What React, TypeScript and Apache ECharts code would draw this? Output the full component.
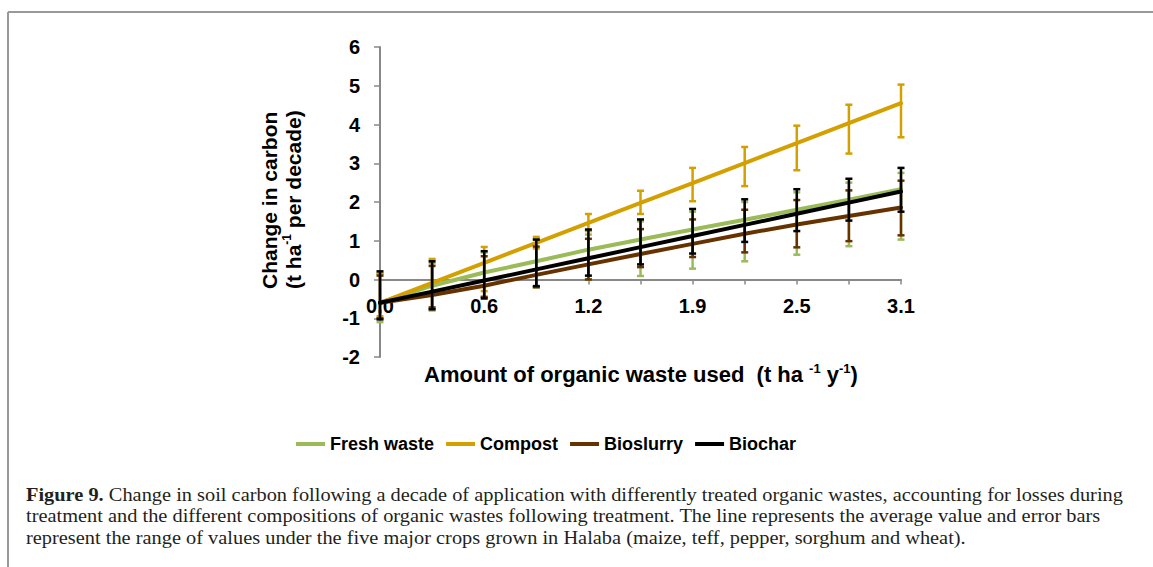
import React, { useEffect, useRef } from "react";
import * as echarts from "echarts";

const categories = ["0.0", "0.3", "0.6", "0.9", "1.2", "1.6", "1.9", "2.2", "2.5", "2.8", "3.1"];

const freshMean = [-0.6, -0.16, 0.18, 0.47, 0.77, 1.03, 1.29, 1.54, 1.8, 2.06, 2.33];
const freshHigh = [0.15, 0.42, 0.7, 1.05, 1.16, 1.5, 1.75, 2.0, 2.25, 2.5, 2.75];
const freshLow = [-1.1, -0.8, -0.45, -0.2, 0.0, 0.09, 0.28, 0.47, 0.64, 0.86, 1.03];

const compostMean = [-0.6, -0.085, 0.43, 0.945, 1.46, 1.975, 2.49, 3.005, 3.52, 4.035, 4.55];
const compostHigh = [0.15, 0.53, 0.84, 1.1, 1.69, 2.29, 2.88, 3.42, 3.97, 4.51, 5.03];
const compostLow = [-0.95, -0.75, -0.3, 0.8, 1.25, 1.69, 2.02, 2.41, 2.82, 3.25, 3.67];

const slurryMean = [-0.6, -0.4, -0.16, 0.12, 0.39, 0.66, 0.92, 1.18, 1.42, 1.64, 1.86];
const slurryHigh = [0.1, 0.35, 0.6, 0.85, 1.05, 1.3, 1.55, 1.8, 2.05, 2.3, 2.55];
const slurryLow = [-1.0, -0.72, -0.45, -0.2, 0.0, 0.32, 0.58, 0.7, 0.83, 0.99, 1.14];

const charMean = [-0.6, -0.313, -0.026, 0.261, 0.548, 0.835, 1.122, 1.409, 1.696, 1.983, 2.27];
const charHigh = [0.21, 0.47, 0.73, 1.03, 1.29, 1.55, 1.82, 2.07, 2.33, 2.6, 2.88];
const charLow = [-1.03, -0.77, -0.49, -0.17, 0.1, 0.39, 0.67, 0.97, 1.25, 1.52, 1.75];

const seriesDefs = [
  { name: "Fresh waste", color: "#9BBB59", mean: freshMean, high: freshHigh, low: freshLow },
  { name: "Compost", color: "#D4A000", mean: compostMean, high: compostHigh, low: compostLow },
  { name: "Bioslurry", color: "#663300", mean: slurryMean, high: slurryHigh, low: slurryLow },
  { name: "Biochar", color: "#000000", mean: charMean, high: charHigh, low: charLow },
];

const captionLines = [
  "{b|Figure 9.} Change in soil carbon following a decade of application with differently treated organic wastes, accounting for losses during",
  "treatment and the different compositions of organic wastes following treatment. The line represents the average value and error bars",
  "represent the range of values under the five major crops grown in Halaba (maize, teff, pepper, sorghum and wheat).",
];

const SANS = "Arial, 'Liberation Sans', sans-serif";
const SERIF = "'Liberation Serif', 'Times New Roman', serif";

export default function App() {
  const ref = useRef<HTMLDivElement>(null);
  useEffect(() => {
    if (!ref.current) return;
    const chart = echarts.init(ref.current, undefined, { renderer: "svg" });
    const series: any[] = [];
    seriesDefs.forEach((s, k) => {
      series.push({
        name: s.name + " range",
        type: "custom",
        z: 2 + k * 2,
        encode: { x: 0, y: [1, 2] },
        data: s.mean.map((_, i) => [i, s.low[i], s.high[i]]),
        renderItem: (params: any, api: any) => {
          const x = api.value(0);
          const pHi = api.coord([x, api.value(2)]);
          const pLo = api.coord([x, api.value(1)]);
          const w = 3.5;
          const style = { stroke: s.color, lineWidth: 2.5, fill: "none" };
          return {
            type: "group",
            children: [
              { type: "line", shape: { x1: pHi[0], y1: pHi[1], x2: pLo[0], y2: pLo[1] }, style },
              { type: "line", shape: { x1: pHi[0] - w, y1: pHi[1], x2: pHi[0] + w, y2: pHi[1] }, style },
              { type: "line", shape: { x1: pLo[0] - w, y1: pLo[1], x2: pLo[0] + w, y2: pLo[1] }, style },
            ],
          };
        },
        silent: true,
      });
      series.push({
        name: s.name,
        type: "line",
        z: 3 + k * 2,
        data: s.mean,
        showSymbol: false,
        symbol: "none",
        color: s.color,
        lineStyle: { color: s.color, width: 4, cap: "round" },
      });
    });

    const richY = {
      a: { fontFamily: SANS, fontSize: 21, fontWeight: "bold", fill: "#000", lineHeight: 24 },
      s: { fontFamily: SANS, fontSize: 12, fontWeight: "bold", fill: "#000", lineHeight: 24, verticalAlign: "top" },
    };
    const richX = {
      a: { fontFamily: SANS, fontSize: 22, fontWeight: "bold", fill: "#000", lineHeight: 25 },
      s: { fontFamily: SANS, fontSize: 13, fontWeight: "bold", fill: "#000", lineHeight: 25, verticalAlign: "top" },
    };

    chart.setOption({
      animation: false,
      backgroundColor: "#ffffff",
      grid: { left: 380, right: 252, top: 47, bottom: 210, containLabel: false },
      legend: {
        data: seriesDefs.map((s) => s.name),
        left: 291,
        top: 430,
        icon: "rect",
        itemWidth: 29,
        itemHeight: 4,
        itemGap: 12,
        textStyle: { fontFamily: SANS, fontSize: 18, fontWeight: "bold", color: "#000" },
      },
      xAxis: {
        type: "category",
        data: categories,
        boundaryGap: false,
        position: "bottom",
        offset: -77.5,
        axisLine: { onZero: false, lineStyle: { color: "#888888", width: 2 } },
        axisTick: { show: true, interval: 0, length: 5, inside: false, lineStyle: { color: "#888888", width: 1.5 } },
        axisLabel: {
          interval: 1,
          margin: 16,
          fontFamily: SANS,
          fontSize: 20,
          fontWeight: "bold",
          color: "#000",
        },
        splitLine: { show: false },
      },
      yAxis: {
        type: "value",
        min: -2,
        max: 6,
        interval: 1,
        axisLine: { show: true, lineStyle: { color: "#888888", width: 2 } },
        axisTick: { show: true, length: 6, lineStyle: { color: "#888888", width: 1.5 } },
        axisLabel: { margin: 20, fontFamily: SANS, fontSize: 20, fontWeight: "bold", color: "#000" },
        splitLine: { show: false },
      },
      graphic: [
        { type: "line", shape: { x1: 8, y1: 12, x2: 1153, y2: 12 }, style: { stroke: "#999999", lineWidth: 2 } },
        { type: "line", shape: { x1: 8, y1: 12, x2: 8, y2: 567 }, style: { stroke: "#999999", lineWidth: 2 } },
        {
          type: "text",
          x: 281,
          y: 289,
          rotation: Math.PI / 2,
          style: {
            text: "{a|Change in carbon}\n{a|(t ha}{s|-1}{a| per decade)}",
            align: "left",
            verticalAlign: "middle",
            rich: richY,
          },
        },
        {
          type: "text",
          x: 641,
          y: 374,
          style: {
            text: "{a|Amount of organic waste used  (t ha }{s|-1}{a| y}{s|-1}{a|)}",
            align: "center",
            verticalAlign: "middle",
            rich: richX,
          },
        },
        ...captionLines.map((t, i) => ({
          type: "text",
          x: 26,
          y: 494 + i * 21.5,
          scaleX: 1.045,
          style: {
            text: t,
            align: "left",
            verticalAlign: "middle",
            fontFamily: SERIF,
            fontSize: 19.5,
            fill: "#231F20",
            rich: {
              b: { fontFamily: SERIF, fontSize: 19.5, fontWeight: "bold", fill: "#231F20" },
            },
          },
        })),
      ],
      series,
    });
    return () => chart.dispose();
  }, []);
  return (
    <div
      ref={ref}
      style={{ position: "absolute", left: 0, top: 0, width: 1153, height: 567, background: "#fff" }}
    />
  );
}
